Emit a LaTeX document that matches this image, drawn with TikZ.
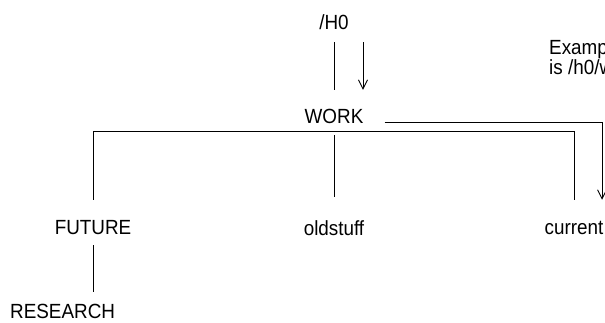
\documentclass[tikz,border=0pt]{standalone}
\usepackage{fontspec}
\setmainfont{Liberation Sans}[FakeStretch=0.92]
\usetikzlibrary{arrows.meta,calc}
\begin{document}
\begin{tikzpicture}[x=1pt,y=-1pt,
  lbl/.style={font=\fontsize{20.5}{22}\selectfont, inner sep=0pt,
              text height=14pt, text depth=0pt, anchor=base},
  wire/.style={line width=0.9pt, black},
  arr/.style={wire, -{Straight Barb[length=9pt,width=9pt,line width=0.9pt]}}]
\useasboundingbox (0,0) rectangle (605,323);
\clip (0,0) rectangle (605,323);

% directory names
\node[lbl] (h0)       at (334,30)  {/H0};
\node[lbl] (work)     at (334,124) {WORK};
\node[lbl] (future)   at (93,235)  {FUTURE};
\node[lbl] (oldstuff) at (334,236) {oldstuff};
\node[lbl] (current)  at (574,235) {current};
\node[lbl, anchor=base west] (research) at (10,318) {RESEARCH};

% note on the right
\node[lbl, anchor=base west] (ex1) at (549,55) {Example path};
\node[lbl, anchor=base west] (ex2) at (549,75) {is /h0/work/current};

% /H0 down to WORK, with the walking arrow beside it
\draw[wire] ([yshift=-12pt]h0.south) -- ([yshift=20pt]work.north);
\draw[arr]  ([xshift=29pt,yshift=-12pt]h0.south) -- ([xshift=29pt,yshift=20pt]work.north);

% path arrow from WORK round to current
\coordinate (pstart) at ([xshift=21pt,yshift=2pt]work.base east);
\coordinate (pend)   at ([xshift=-1.5pt,yshift=21pt]current.north east);
\draw[arr] (pstart) -| (pend);

% WORK subtree
\coordinate (j) at ([yshift=-28pt]work.south);
\draw[wire] ([yshift=-11pt]work.south) -- ([yshift=25pt]oldstuff.north);
\draw[wire] ([yshift=21pt]future.north) -- ([yshift=21pt]future.north |- j)
            -- ([yshift=21pt]current.north |- j) -- ([yshift=21pt]current.north);

% FUTURE down to RESEARCH
\draw[wire] ([yshift=-10pt]future.south) -- ([yshift=12pt]future.south |- research.north);
\end{tikzpicture}
\end{document}
